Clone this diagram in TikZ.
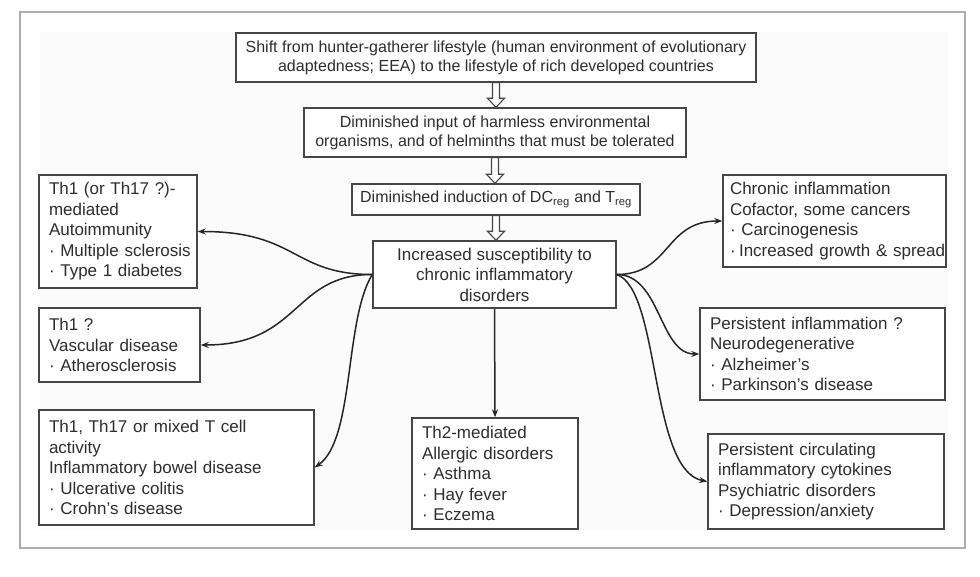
\documentclass[tikz,border=0pt]{standalone}
\usepackage{fontspec}
\setmainfont{Liberation Sans}
\usetikzlibrary{arrows.meta, calc}
\definecolor{cFrame}{RGB}{172,172,172}
\definecolor{cLine}{RGB}{70,70,70}
\definecolor{cText}{RGB}{45,45,45}
\tikzset{
	topbox/.style ={rectangle, draw=cLine, line width=1.4pt, fill=white, align=center, text=cText, inner sep=0pt, font=\fontsize{16}{19}\selectfont},
	sidebox/.style={rectangle, draw=cLine, line width=1.4pt, fill=white, align=left, text=cText, inner xsep=10pt, inner ysep=0pt, font=\fontsize{17}{20.5}\selectfont},
	% connector styles
	hollow/.style ={draw=cLine, line width=1.1pt, fill=white},
	curvearr/.style={-{Stealth[length=8pt, width=6pt]}, line width=1.5pt, black!85},
}
\newcommand\openarrow[2]{%
	\draw[hollow] let \p1=(#1.south), \p2=(#2.north) in
		(\x1-3.5pt,\y1) -- (\x1+3.5pt,\y1) -- (\x1+3.5pt,\y2+9pt) -- (\x1+8.5pt,\y2+9pt)
		-- (\x1,\y2) -- (\x1-8.5pt,\y2+9pt) -- (\x1-3.5pt,\y2+9pt) -- cycle;}

\begin{document}
\begin{tikzpicture}[x=1pt, y=-1pt]
	\useasboundingbox (0,0) rectangle (980,577);
	\filldraw[draw=cFrame, fill=white, line width=1.5pt] (20,12) rectangle (965,548);
	\fill[black!1.5] (40,32) rectangle (948,531);

	% causal chain
	\node[topbox, minimum width=520pt, minimum height=49pt] (shift) at (496,57.5)
		{Shift from hunter-gatherer lifestyle (human environment of evolutionary\\adaptedness; EEA) to the lifestyle of rich developed countries};
	\node[topbox, minimum width=382pt, minimum height=49pt] (input) at (495,132.5)
		{Diminished input of harmless environmental\\organisms, and of helminths that must be tolerated};
	\node[topbox, minimum width=288pt, minimum height=31pt] (induction) at (496,199.5)
		{Diminished induction of DC\textsubscript{reg} and T\textsubscript{reg}};
	\node[topbox, minimum width=243pt, minimum height=67pt, font=\fontsize{17}{20.5}\selectfont] (suscept) at (494.5,274.5)
		{Increased susceptibility to\\chronic inflammatory\\disorders};
	\openarrow{shift}{input}
	\openarrow{input}{induction}
	\openarrow{induction}{suscept}

	% disorders
	\node[sidebox, text width=138pt, minimum height=113pt] (autoimm) at (118,231.5)
		{Th1 (or Th17 ?)-\\mediated\\Autoimmunity\\\mbox{· Multiple sclerosis}\\\mbox{· Type 1 diabetes}};
	\node[sidebox, text width=141pt, minimum height=74pt] (vascular) at (119.5,345)
		{Th1 ?\\Vascular disease\\\mbox{· Atherosclerosis}};
	\node[sidebox, text width=255pt, minimum height=115pt] (bowel) at (176.5,467.5)
		{Th1, Th17 or mixed T cell\\activity\\Inflammatory bowel disease\\· Ulcerative colitis\\· Crohn's disease};
	\node[sidebox, text width=146pt, minimum height=111pt] (allergic) at (495,473.5)
		{Th2-mediated\\\mbox{Allergic disorders}\\· Asthma\\· Hay fever\\· Eczema};
	\node[sidebox, inner xsep=7pt, text width=209pt, minimum height=92pt] (cancer) at (834.5,221)
		{Chronic inflammation\\\mbox{Cofactor, some cancers}\\· Carcinogenesis\\\mbox{·\hspace{0.2em}Increased growth \& spread}};
	\node[sidebox, text width=225pt, minimum height=92pt] (neuro) at (822.5,354)
		{Persistent inflammation ?\\Neurodegenerative\\· Alzheimer's\\· Parkinson's disease};
	\node[sidebox, text width=216pt, minimum height=95pt] (psych) at (826,481.5)
		{Persistent circulating\\inflammatory cytokines\\Psychiatric disorders\\· Depression/anxiety};

	\draw[curvearr] (suscept.west) .. controls +(-80,0) and +(100,0) .. (autoimm.east);
	\draw[curvearr] (suscept.west) .. controls +(-80,0) and +(100,0) .. (vascular.east);
	\draw[curvearr] (suscept.west) .. controls +(-28,45) and +(40,-28) .. (bowel.east);
	\draw[curvearr] (suscept.south) -- (allergic.north);
	\draw[curvearr] (suscept.east) .. controls +(54,0) and +(-58,0) .. (cancer.west);
	\draw[curvearr] (suscept.east) .. controls +(44,0) and +(-40,0) .. (neuro.west);
	\draw[curvearr] (suscept.east) .. controls +(44,15) and +(-58,-11) .. (psych.west);
\end{tikzpicture}
\end{document}
